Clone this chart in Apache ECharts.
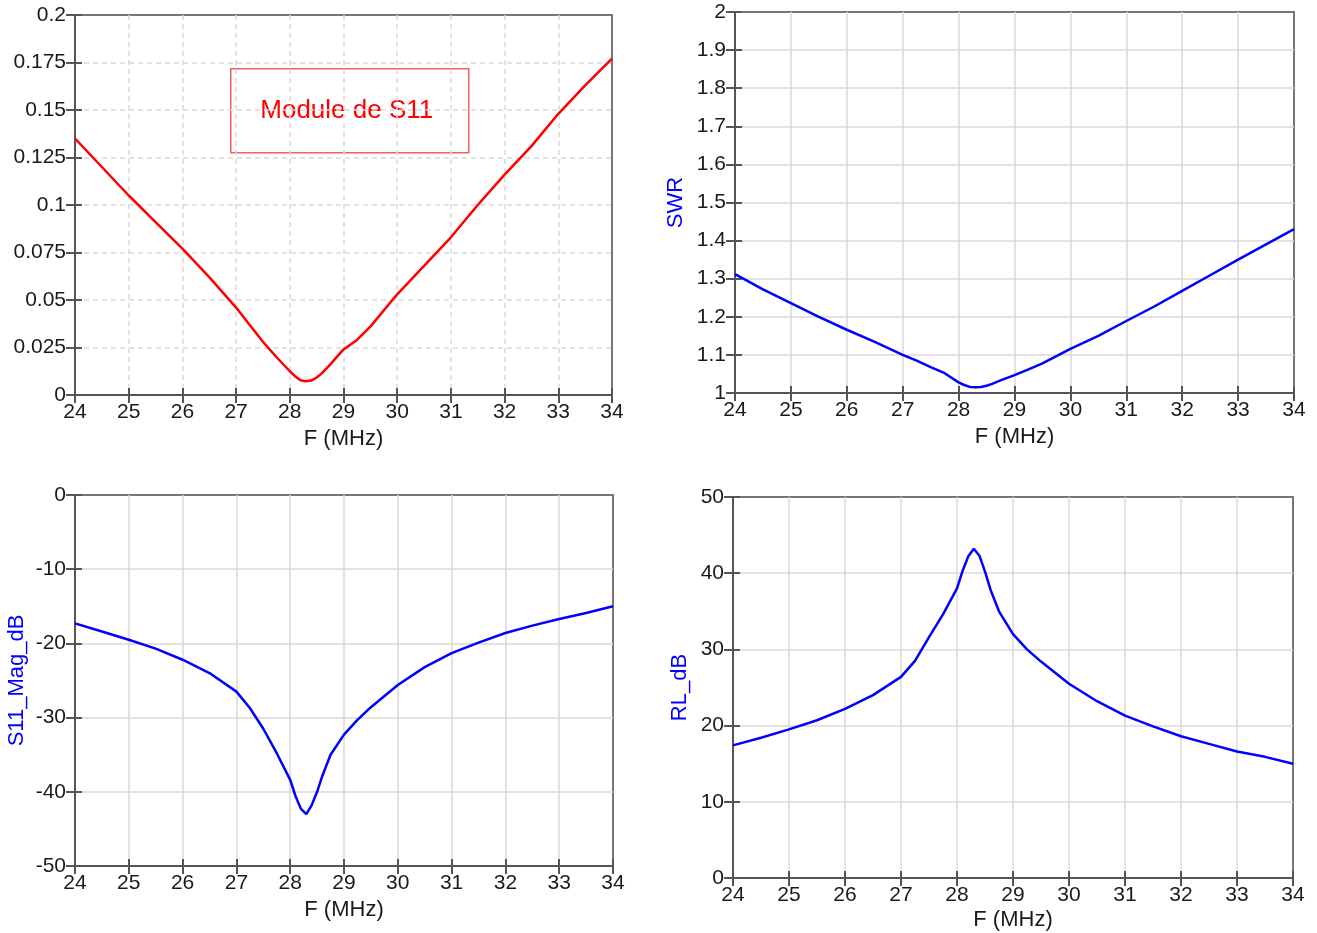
<!DOCTYPE html>
<html>
<head>
<meta charset="utf-8">
<style>
  html, body { margin: 0; padding: 0; background: #fff; }
  #main { width: 1317px; height: 933px; }
</style>
<script src="https://cdn.jsdelivr.net/npm/echarts@6/dist/echarts.min.js"></script>
</head>
<body>
<div id="main"></div>
<script>
// frequency points (MHz)
var freq = [24, 24.5, 25, 25.5, 26, 26.5, 27, 27.25, 27.5, 27.75, 28, 28.1, 28.2, 28.3, 28.4,
  28.5, 28.6, 28.75, 29, 29.25, 29.5, 30, 30.5, 31, 31.5, 32, 32.5, 33, 33.5, 34];

// |S11|
var s11Mag = [0.135, 0.120, 0.105, 0.091, 0.077, 0.062, 0.046, 0.037, 0.028, 0.020, 0.0125, 0.0098,
  0.0078, 0.0072, 0.0076, 0.0092, 0.0115, 0.016, 0.024, 0.029, 0.036, 0.053, 0.068, 0.083, 0.100,
  0.116, 0.131, 0.148, 0.163, 0.177];

var swr = [1.312, 1.272, 1.236, 1.200, 1.166, 1.134, 1.100, 1.085, 1.068, 1.052, 1.028, 1.021,
  1.016, 1.015, 1.016, 1.019, 1.024, 1.033, 1.047, 1.062, 1.078, 1.116, 1.150, 1.189, 1.227,
  1.268, 1.309, 1.350, 1.390, 1.430];

var s11dB = [-17.3, -18.4, -19.5, -20.7, -22.2, -24.0, -26.5, -28.7, -31.5, -34.8, -38.4, -40.6,
  -42.3, -43.0, -41.8, -40.0, -37.8, -35.0, -32.3, -30.3, -28.6, -25.6, -23.2, -21.3, -19.9,
  -18.6, -17.6, -16.7, -15.9, -15.0];

var rldB = [17.4, 18.4, 19.5, 20.7, 22.2, 24.0, 26.4, 28.5, 31.6, 34.6, 38.0, 40.3, 42.2, 43.2,
  42.3, 40.2, 37.8, 35.0, 32.0, 30.0, 28.4, 25.5, 23.2, 21.3, 19.9, 18.6, 17.6, 16.6, 15.9, 15.0];

var font = 'Liberation Sans, Arial, sans-serif';
var axisCol = '#555';
var labelCol = '#1a1a1a';

function pairs(ys) {
  return freq.map(function (f, i) { return [f, ys[i]]; });
}

var grids = [
  { left: 75, right: 705, top: 15, bottom: 538 },
  { left: 735, right: 23, top: 12, bottom: 540 },
  { left: 75, right: 704, top: 495, bottom: 67 },
  { left: 733, right: 24, top: 497, bottom: 55 }
];

var yDefs = [
  { min: 0, max: 0.2, interval: 0.025, name: '', dashed: true, gap: 0, xGap: 33 },
  { min: 1, max: 2, interval: 0.1, name: 'SWR', dashed: false, gap: 48, xGap: 33 },
  { min: -50, max: 0, interval: 10, name: 'S11_Mag_dB', dashed: false, gap: 47, xGap: 33 },
  { min: 0, max: 50, interval: 10, name: 'RL_dB', dashed: false, gap: 42, xGap: 31 }
];

var xAxes = [], yAxes = [], series = [];
var dataSets = [s11Mag, swr, s11dB, rldB];
var colors = ['#ff0000', '#0000ff', '#0000ff', '#0000ff'];

grids.forEach(function (g, i) {
  var d = yDefs[i];
  var split = {
    show: true, showMinLine: false, showMaxLine: false,
    lineStyle: { color: '#d9d9d9', width: 1.5, type: d.dashed ? [5, 4] : 'solid' }
  };
  // main axes: line, labels, grid
  xAxes.push({
    gridIndex: i, type: 'value', min: 24, max: 34, interval: 1, position: 'bottom', offset: 0,
    name: 'F (MHz)', nameLocation: 'middle', nameGap: d.xGap,
    nameTextStyle: { color: labelCol, fontSize: 22, fontFamily: font },
    axisLine: { show: true, onZero: false, lineStyle: { color: axisCol, width: 2 } },
    axisTick: { show: false },
    axisLabel: { color: labelCol, fontSize: 21, fontFamily: font, margin: 7 },
    splitLine: split
  });
  yAxes.push({
    gridIndex: i, type: 'value', min: d.min, max: d.max, interval: d.interval, position: 'left', offset: 0,
    name: d.name, nameLocation: 'middle', nameGap: d.gap,
    nameTextStyle: { color: '#0000ff', fontSize: 22, fontFamily: font },
    axisLine: { show: true, onZero: false, lineStyle: { color: axisCol, width: 2 } },
    axisTick: { show: false },
    axisLabel: { color: labelCol, fontSize: 21, fontFamily: font, margin: 9 },
    splitLine: split
  });
  // tick-only axes shifted inward so the ticks cross the axis line
  xAxes.push({
    gridIndex: i, type: 'value', min: 24, max: 34, interval: 1, position: 'bottom', offset: -7,
    axisLine: { show: false, onZero: false }, axisLabel: { show: false }, splitLine: { show: false },
    axisTick: { show: true, length: 15, lineStyle: { color: axisCol, width: 2 } }
  });
  yAxes.push({
    gridIndex: i, type: 'value', min: d.min, max: d.max, interval: d.interval, position: 'left', offset: -7,
    axisLine: { show: false, onZero: false }, axisLabel: { show: false }, splitLine: { show: false },
    axisTick: { show: true, length: 16, lineStyle: { color: axisCol, width: 2 } }
  });
  series.push({
    type: 'line', xAxisIndex: i * 2, yAxisIndex: i * 2,
    data: pairs(dataSets[i]), symbol: 'none', silent: true,
    lineStyle: { color: colors[i], width: 2.5 }
  });
});

var chart = echarts.init(document.getElementById('main'));
chart.setOption({
  backgroundColor: '#fff',
  animation: false,
  grid: grids.map(function (g) {
    return Object.assign({ show: true, borderColor: '#777', borderWidth: 2 }, g);
  }),
  xAxis: xAxes,
  yAxis: yAxes,
  series: series,
  graphic: [{
    type: 'group', left: 230, top: 68,
    children: [{
      type: 'rect', shape: { x: 0, y: 0, width: 238, height: 84 },
      style: { fill: '#fff', stroke: '#f06060', lineWidth: 1.5 }
    }, {
      type: 'text', x: 116, y: 42,
      style: { text: 'Module de S11', fill: '#ff0000', font: '26px ' + font, align: 'center', verticalAlign: 'middle' }
    }]
  }]
});
</script>
</body>
</html>
